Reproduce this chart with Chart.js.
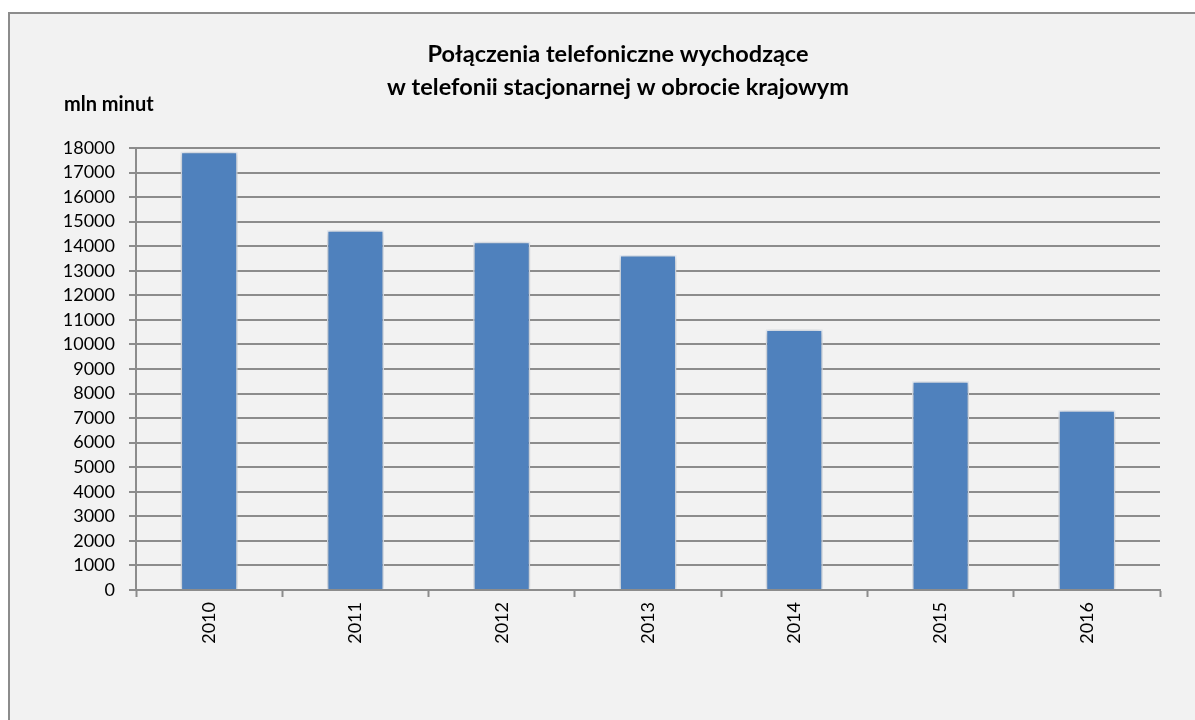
<!DOCTYPE html>
<html>
<head>
<meta charset="utf-8">
<script src="https://cdn.jsdelivr.net/npm/chart.js@4/dist/chart.umd.min.js"></script>
<style>
  html, body { margin: 0; padding: 0; background: #ffffff; }
  #wrap { position: relative; width: 1195px; height: 720px; overflow: hidden; }
  #box { position: absolute; left: 8px; top: 12px; width: 1200px; height: 720px;
         background: #f2f2f2; border: 2px solid #8c8c8c; box-sizing: border-box; }
  canvas { position: absolute; left: 0; top: 0; }
</style>
</head>
<body>
<div id="wrap">
  <div id="box"></div>
  <canvas id="c" width="1195" height="720"></canvas>
</div>
<script>
const categories = ["2010", "2011", "2012", "2013", "2014", "2015", "2016"];
const values = [17850, 14650, 14180, 13640, 10610, 8500, 7320];
const titleLines = ["Połączenia telefoniczne wychodzące", "w telefonii stacjonarnej w obrocie krajowym"];
const unitLabel = "mln minut";
const yMin = 0, yMax = 18000, yStep = 1000;

const FONT = "Lato, 'Open Sans', sans-serif";

const textPlugin = {
  id: 'texts',
  afterDraw(chart) {
    const ctx = chart.ctx;
    ctx.save();
    ctx.fillStyle = '#000';
    ctx.textBaseline = 'alphabetic';
    ctx.textAlign = 'center';
    ctx.font = "bold 23.5px " + FONT;
    ctx.fillText(titleLines[0], 618, 62);
    ctx.fillText(titleLines[1], 618, 95);
    ctx.textAlign = 'left';
    ctx.font = "bold 20px " + FONT;
    ctx.fillText(unitLabel, 64, 111);
    ctx.restore();
  }
};

const shadowPlugin = {
  id: 'barShadow',
  beforeDatasetsDraw(chart) {
    const ctx = chart.ctx;
    ctx.save();
    ctx.shadowColor = 'rgba(0,0,0,0.28)';
    ctx.shadowBlur = 6;
    ctx.shadowOffsetX = 0;
    ctx.shadowOffsetY = 1;
  },
  afterDatasetsDraw(chart) {
    chart.ctx.restore();
  }
};

new Chart(document.getElementById('c'), {
  type: 'bar',
  data: {
    labels: categories,
    datasets: [{
      data: values,
      backgroundColor: '#4f81bd',
      borderColor: '#e8eef7',
      borderWidth: 1.5,
      categoryPercentage: 1,
      barPercentage: 0.39
    }]
  },
  options: {
    responsive: false,
    animation: false,
    devicePixelRatio: 1,
    layout: { padding: { left: 0, top: 148, right: 35, bottom: 0 } },
    plugins: {
      legend: { display: false },
      title: { display: false },
      tooltip: { enabled: false }
    },
    scales: {
      x: {
        afterFit(scale) { scale.height = 130; },
        grid: {
          offset: true,
          drawOnChartArea: false,
          drawTicks: true,
          tickLength: 7,
          tickWidth: 2,
          tickColor: '#8c8c8c'
        },
        border: { display: true, color: '#8c8c8c', width: 2 },
        ticks: {
          minRotation: 90,
          maxRotation: 90,
          autoSkip: false,
          padding: 5,
          color: '#000',
          font: { family: FONT, size: 18 }
        }
      },
      y: {
        min: yMin,
        max: yMax,
        afterFit(scale) { scale.width = 136; },
        grid: {
          color: '#8c8c8c',
          lineWidth: 2,
          drawTicks: true,
          tickLength: 7,
          tickColor: '#8c8c8c'
        },
        border: { display: true, color: '#8c8c8c', width: 2 },
        ticks: {
          stepSize: yStep,
          autoSkip: false,
          padding: 14,
          color: '#000',
          font: { family: FONT, size: 18 },
          callback: (v) => String(v)
        }
      }
    }
  },
  plugins: [shadowPlugin, textPlugin]
});
</script>
</body>
</html>
